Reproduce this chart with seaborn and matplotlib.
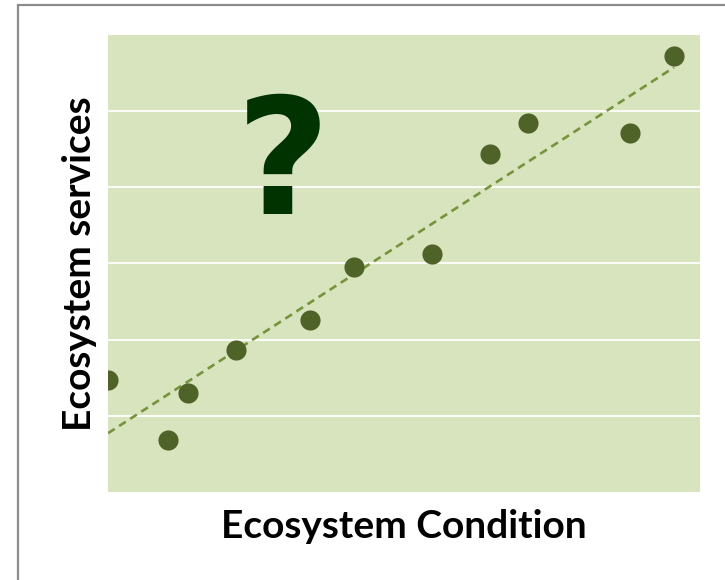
import numpy as np
import pandas as pd
import matplotlib
matplotlib.use("Agg")
import matplotlib.pyplot as plt
from matplotlib.patches import Rectangle
import seaborn as sns

# === DATA ===
condition = [0.0, 1.01, 1.35, 2.16, 3.41, 4.16, 5.47, 6.45, 7.09, 8.82, 9.56]
services = [1.47, 0.68, 1.30, 1.86, 2.26, 2.95, 3.12, 4.44, 4.84, 4.71, 5.72]
grid_levels = [1, 2, 3, 4, 5]

df = pd.DataFrame({"Condition": condition, "Services": services})

# === STYLE ===
sns.set_theme(style="white")
plt.rcParams['font.family'] = ['Lato', 'DejaVu Sans']

fig = plt.figure(figsize=(7.25, 5.8), dpi=100)
ax = fig.add_axes([0.149, 0.1517, 0.8166, 0.788])
ax.set_facecolor("#d7e4bd")

for g in grid_levels:
    ax.axhline(g, color="white", lw=1.3, zorder=1)

# === SCATTER + TREND ===
sns.regplot(data=df, x="Condition", y="Services", ax=ax, ci=None,
            scatter_kws=dict(s=210, color="#4f6228", alpha=1, zorder=4, linewidths=0),
            line_kws=dict(color="#77933c", lw=1.9, ls=(0, (3, 2)), zorder=3))

ax.set_xlim(0, 10)
ax.set_ylim(0, 6)
ax.set_xticks([])
ax.set_yticks([])
for s in ax.spines.values():
    s.set_visible(False)

ax.set_xlabel("Ecosystem Condition", fontsize=28, fontweight="bold", color="black", labelpad=12)
ax.set_ylabel("Ecosystem services", fontsize=28, fontweight="bold", color="black", labelpad=8)

ax.text(2.95, 4.24, "?", fontsize=117, fontweight="bold", color="#003300",
        family="DejaVu Sans", ha="center", va="center", zorder=2)

# === BORDER ===
fig.patches.append(Rectangle((18 / 725, -0.1), 1.2, (580 - 5) / 580 + 0.1,
                             transform=fig.transFigure, fill=False,
                             edgecolor="#8c8c8c", lw=1.6))

fig.savefig("out.png", dpi=100)
